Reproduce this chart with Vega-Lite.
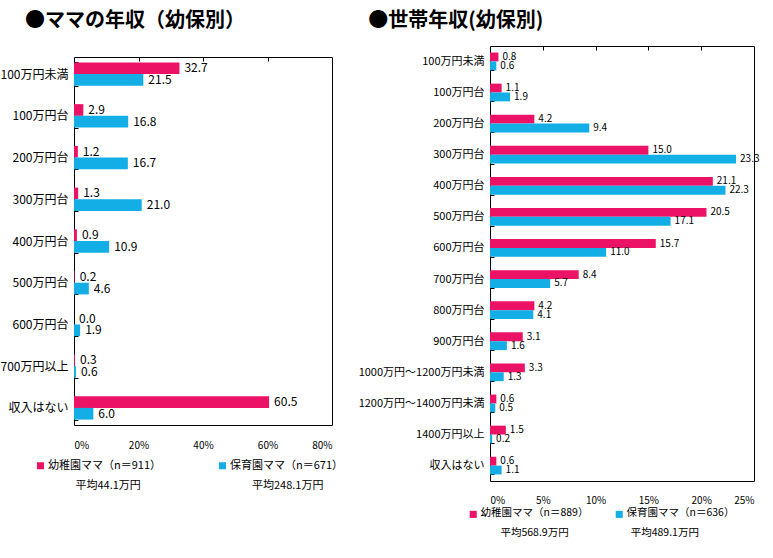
{
  "$schema": "https://vega.github.io/schema/vega-lite/v6.json",
  "padding": {"left": 0, "top": 10, "right": 5, "bottom": 5},
  "background": "white",
  "config": {
    "font": "Noto Sans CJK JP",
    "view": {"stroke": "#000000", "strokeWidth": 1},
    "axis": {"labelColor": "#000000", "labelFont": "Noto Sans CJK JP", "titleColor": "#000000", "domainColor": "#000000", "domainWidth": 1},
    "legend": {"labelColor": "#000000", "labelFont": "Noto Sans CJK JP"},
    "title": {"font": "Noto Sans CJK JP", "color": "#000000"}
  },
  "spacing": 13,
  "hconcat": [
    {
      "width": 258,
      "height": 379,
      "view": {"stroke": null},
      "title": {"text": "●ママの年収（幼保別）", "fontSize": 20, "fontWeight": "bold", "anchor": "start", "frame": "bounds", "dx": 25, "offset": 9},
      "data": {"values": [
        {"category": "100万円未満", "group": "幼稚園ママ（n＝911）", "value": 32.7},
        {"category": "100万円未満", "group": "保育園ママ（n＝671）", "value": 21.5},
        {"category": "100万円台", "group": "幼稚園ママ（n＝911）", "value": 2.9},
        {"category": "100万円台", "group": "保育園ママ（n＝671）", "value": 16.8},
        {"category": "200万円台", "group": "幼稚園ママ（n＝911）", "value": 1.2},
        {"category": "200万円台", "group": "保育園ママ（n＝671）", "value": 16.7},
        {"category": "300万円台", "group": "幼稚園ママ（n＝911）", "value": 1.3},
        {"category": "300万円台", "group": "保育園ママ（n＝671）", "value": 21.0},
        {"category": "400万円台", "group": "幼稚園ママ（n＝911）", "value": 0.9},
        {"category": "400万円台", "group": "保育園ママ（n＝671）", "value": 10.9},
        {"category": "500万円台", "group": "幼稚園ママ（n＝911）", "value": 0.2},
        {"category": "500万円台", "group": "保育園ママ（n＝671）", "value": 4.6},
        {"category": "600万円台", "group": "幼稚園ママ（n＝911）", "value": 0.0},
        {"category": "600万円台", "group": "保育園ママ（n＝671）", "value": 1.9},
        {"category": "700万円以上", "group": "幼稚園ママ（n＝911）", "value": 0.3},
        {"category": "700万円以上", "group": "保育園ママ（n＝671）", "value": 0.6},
        {"category": "収入はない", "group": "幼稚園ママ（n＝911）", "value": 60.5},
        {"category": "収入はない", "group": "保育園ママ（n＝671）", "value": 6.0}
      ]},
      "encoding": {
        "yOffset": {"field": "group", "type": "nominal", "sort": ["幼稚園ママ（n＝911）", "保育園ママ（n＝671）"]}
      },
      "layer": [
        {
          "mark": {"type": "bar"},
          "encoding": {
            "y": {"field": "category", "type": "nominal", "sort": null,
                  "scale": {"range": [11, 379], "paddingInner": 0.44, "paddingOuter": 0.13},
                  "axis": {"title": null, "labelFontSize": 12, "domain": true, "tickBand": "extent", "tickSize": -4, "tickColor": "#000000", "labelPadding": 10}},
            "x": {"field": "value", "type": "quantitative", "scale": {"domain": [0, 80], "nice": false},
                  "axis": {"title": null, "values": [0, 20, 40, 60, 80], "labelExpr": "datum.value + '%'", "labelFontSize": 10, "ticks": false, "grid": false, "domain": true, "labelPadding": 15}},
            "color": {"field": "group", "type": "nominal", "sort": ["幼稚園ママ（n＝911）", "保育園ママ（n＝671）"],
                      "scale": {"domain": ["幼稚園ママ（n＝911）", "保育園ママ（n＝671）"], "range": ["#EC1265", "#14AEE6"]},
                      "legend": {"title": null, "orient": "none", "legendX": -39, "legendY": 414, "direction": "horizontal",
                                 "symbolType": "square", "symbolSize": 50, "symbolStrokeWidth": 0, "labelFontSize": 11, "labelOffset": 2, "labelLimit": 300,
                                 "columnPadding": 55, "labelBaseline": "top",
                                 "labelExpr": "datum.label == '幼稚園ママ（n＝911）' ? [datum.label, '\u200b\u3000\u3000\u2002平均44.1万円'] : [datum.label, '\u200b\u3000\u3000平均248.1万円']",
                                 "encode": {"labels": {"update": {"lineHeight": {"value": 20}, "dy": {"value": -6}}}}}}
          }
        },
        {
          "mark": {"type": "text", "align": "left", "dx": 5, "fontSize": 12, "color": "#000000"},
          "encoding": {
            "y": {"field": "category", "type": "nominal", "sort": null,
                  "scale": {"range": [11, 379], "paddingInner": 0.44, "paddingOuter": 0.13},
                  "axis": {"orient": "right", "title": null, "labels": false, "ticks": false, "domain": true}},
            "x": {"field": "value", "type": "quantitative", "scale": {"domain": [0, 80], "nice": false},
                  "axis": {"orient": "top", "offset": -11, "title": null, "values": [20, 40, 60], "labels": false, "grid": false, "domain": true, "tickSize": -4, "tickColor": "#000000"}},
            "text": {"field": "value", "type": "quantitative", "format": ".1f"}
          }
        }
      ],
      "resolve": {"axis": {"x": "independent", "y": "independent"}}
    },
    {
      "width": 264,
      "height": 435,
      "title": {"text": "●世帯年収(幼保別)", "fontSize": 20, "fontWeight": "bold", "anchor": "start", "frame": "bounds", "dx": 10, "offset": 9},
      "data": {"values": [
        {"category": "100万円未満", "group": "幼稚園ママ（n＝889）", "value": 0.8},
        {"category": "100万円未満", "group": "保育園ママ（n＝636）", "value": 0.6},
        {"category": "100万円台", "group": "幼稚園ママ（n＝889）", "value": 1.1},
        {"category": "100万円台", "group": "保育園ママ（n＝636）", "value": 1.9},
        {"category": "200万円台", "group": "幼稚園ママ（n＝889）", "value": 4.2},
        {"category": "200万円台", "group": "保育園ママ（n＝636）", "value": 9.4},
        {"category": "300万円台", "group": "幼稚園ママ（n＝889）", "value": 15.0},
        {"category": "300万円台", "group": "保育園ママ（n＝636）", "value": 23.3},
        {"category": "400万円台", "group": "幼稚園ママ（n＝889）", "value": 21.1},
        {"category": "400万円台", "group": "保育園ママ（n＝636）", "value": 22.3},
        {"category": "500万円台", "group": "幼稚園ママ（n＝889）", "value": 20.5},
        {"category": "500万円台", "group": "保育園ママ（n＝636）", "value": 17.1},
        {"category": "600万円台", "group": "幼稚園ママ（n＝889）", "value": 15.7},
        {"category": "600万円台", "group": "保育園ママ（n＝636）", "value": 11.0},
        {"category": "700万円台", "group": "幼稚園ママ（n＝889）", "value": 8.4},
        {"category": "700万円台", "group": "保育園ママ（n＝636）", "value": 5.7},
        {"category": "800万円台", "group": "幼稚園ママ（n＝889）", "value": 4.2},
        {"category": "800万円台", "group": "保育園ママ（n＝636）", "value": 4.1},
        {"category": "900万円台", "group": "幼稚園ママ（n＝889）", "value": 3.1},
        {"category": "900万円台", "group": "保育園ママ（n＝636）", "value": 1.6},
        {"category": "1000万円～1200万円未満", "group": "幼稚園ママ（n＝889）", "value": 3.3},
        {"category": "1000万円～1200万円未満", "group": "保育園ママ（n＝636）", "value": 1.3},
        {"category": "1200万円～1400万円未満", "group": "幼稚園ママ（n＝889）", "value": 0.6},
        {"category": "1200万円～1400万円未満", "group": "保育園ママ（n＝636）", "value": 0.5},
        {"category": "1400万円以上", "group": "幼稚園ママ（n＝889）", "value": 1.5},
        {"category": "1400万円以上", "group": "保育園ママ（n＝636）", "value": 0.2},
        {"category": "収入はない", "group": "幼稚園ママ（n＝889）", "value": 0.6},
        {"category": "収入はない", "group": "保育園ママ（n＝636）", "value": 1.1}
      ]},
      "encoding": {
        "y": {"field": "category", "type": "nominal", "sort": null,
              "scale": {"paddingInner": 0.43, "paddingOuter": 0.21},
              "axis": {"title": null, "labelFontSize": 11, "domain": false, "tickBand": "extent", "tickSize": -4, "tickColor": "#000000", "labelPadding": 10, "labelLimit": 300}},
        "yOffset": {"field": "group", "type": "nominal", "sort": ["幼稚園ママ（n＝889）", "保育園ママ（n＝636）"]},
        "x": {"field": "value", "type": "quantitative", "scale": {"domain": [0, 25], "nice": false}}
      },
      "layer": [
        {
          "mark": {"type": "bar"},
          "encoding": {
            "x": {"field": "value", "type": "quantitative", "scale": {"domain": [0, 25], "nice": false},
                  "axis": {"title": null, "values": [0, 5, 10, 15, 20, 25], "labelExpr": "datum.value + '%'", "labelFontSize": 10, "ticks": false, "grid": false, "domain": false, "labelPadding": 14}},
            "color": {"field": "group", "type": "nominal", "sort": ["幼稚園ママ（n＝889）", "保育園ママ（n＝636）"],
                      "scale": {"domain": ["幼稚園ママ（n＝889）", "保育園ママ（n＝636）"], "range": ["#EC1265", "#14AEE6"]},
                      "legend": {"title": null, "orient": "none", "legendX": -22, "legendY": 463, "direction": "horizontal",
                                 "symbolType": "square", "symbolSize": 50, "symbolStrokeWidth": 0, "labelFontSize": 10.5, "labelOffset": 2, "labelLimit": 300,
                                 "columnPadding": 25, "labelBaseline": "top",
                                 "labelExpr": "datum.label == '幼稚園ママ（n＝889）' ? [datum.label, '\u200b\u3000\u2002\u2009\u2009平均568.9万円'] : [datum.label, '\u200b\u2009\u2009平均489.1万円']",
                                 "encode": {"labels": {"update": {"lineHeight": {"value": 20}, "dy": {"value": -6}}}}}}
          }
        },
        {
          "mark": {"type": "text", "align": "left", "dx": 4, "fontSize": 10, "color": "#000000"},
          "encoding": {
            "x": {"field": "value", "type": "quantitative", "scale": {"domain": [0, 25], "nice": false},
                  "axis": {"orient": "top", "title": null, "values": [5, 10, 15, 20], "labels": false, "grid": false, "domain": false, "tickSize": -4, "tickColor": "#000000"}},
            "text": {"field": "value", "type": "quantitative", "format": ".1f"}
          }
        }
      ],
      "resolve": {"axis": {"x": "independent"}}
    }
  ],
  "resolve": {"scale": {"color": "independent", "x": "independent", "y": "independent", "yOffset": "independent"}, "legend": {"color": "independent"}}
}
